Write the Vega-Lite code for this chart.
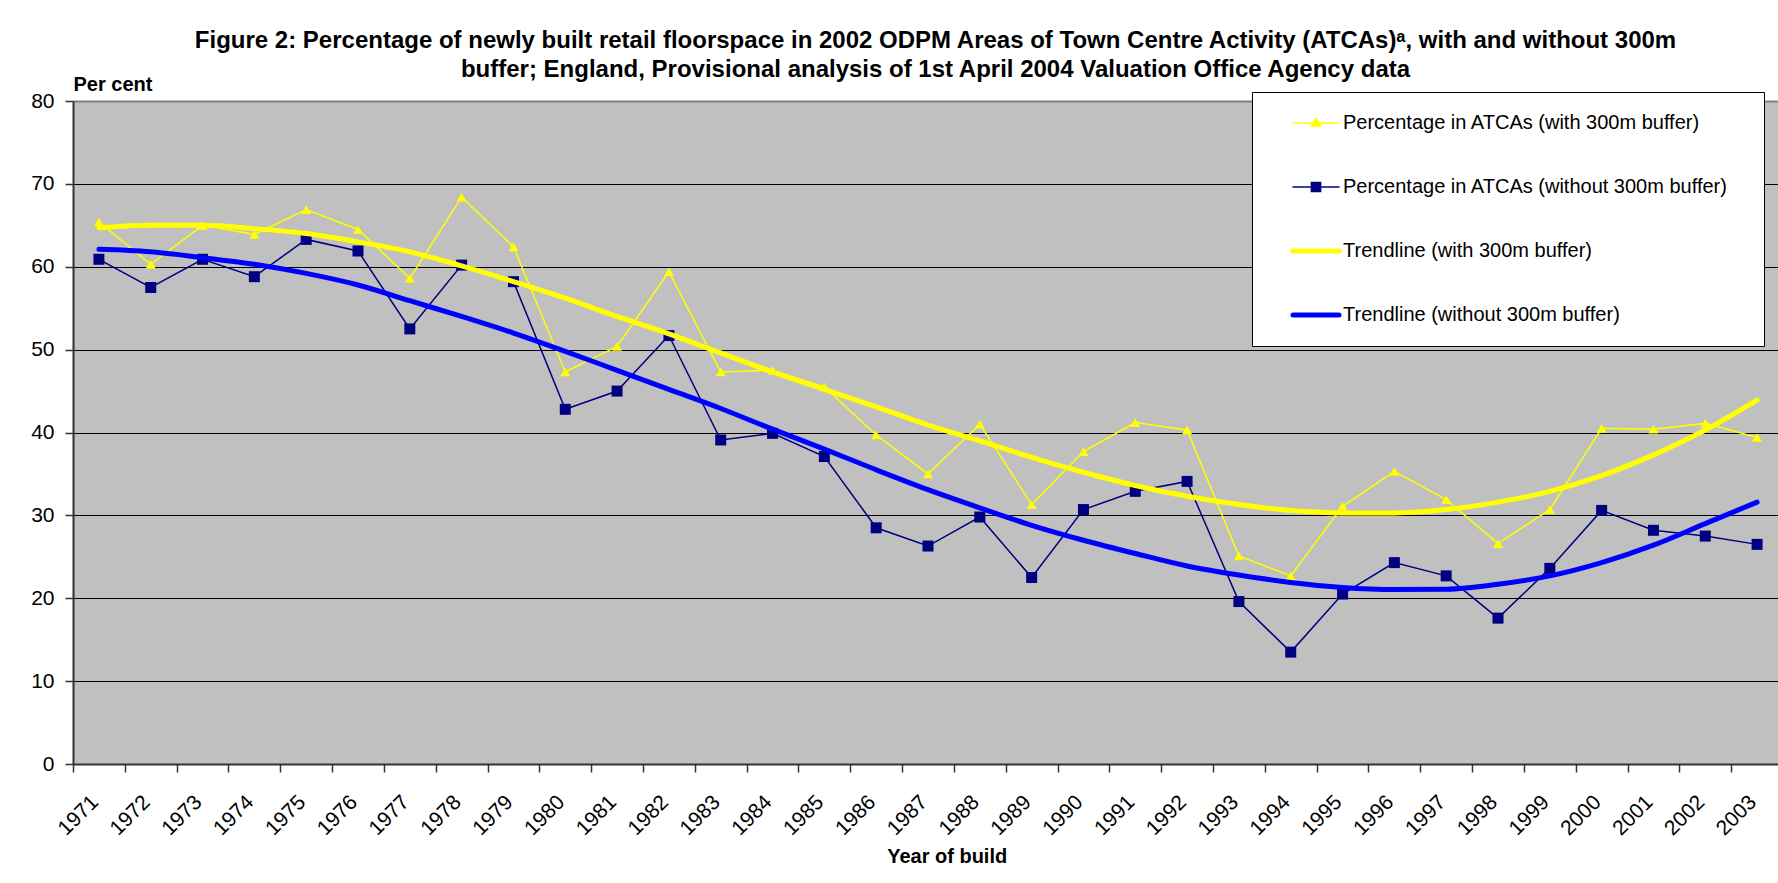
{
  "$schema": "https://vega.github.io/schema/vega-lite/v6.json",
  "autosize": "none",
  "width": 1705,
  "height": 663,
  "padding": {"left": 73, "top": 101, "right": 0, "bottom": 119},
  "background": "white",
  "title": {
    "text": ["Figure 2: Percentage of newly built retail floorspace in 2002 ODPM Areas of Town Centre Activity (ATCAs)\u1d43, with and without 300m", "buffer; England, Provisional analysis of 1st April 2004 Valuation Office Agency data"],
    "anchor": "middle",
    "fontSize": 24,
    "fontWeight": "bold",
    "font": "Liberation Sans",
    "color": "#000000",
    "lineHeight": 29,
    "offset": -8,
    "dx": 10
  },
  "config": {
    "font": "Liberation Sans",
    "view": {"fill": "#C0C0C0", "stroke": null},
    "axis": {
      "labelColor": "#000000",
      "labelFont": "Liberation Sans",
      "titleColor": "#000000",
      "titleFont": "Liberation Sans",
      "domainColor": "#333333",
      "domainWidth": 2,
      "tickColor": "#333333",
      "tickWidth": 1.5,
      "tickSize": 8
    }
  },
  "data": {"values": [
    {"year":"1971","s":"w","v":65.4},{"year":"1972","s":"w","v":60.3},{"year":"1973","s":"w","v":65.0},{"year":"1974","s":"w","v":63.9},{"year":"1975","s":"w","v":66.9},{"year":"1976","s":"w","v":64.5},{"year":"1977","s":"w","v":58.6},{"year":"1978","s":"w","v":68.4},{"year":"1979","s":"w","v":62.4},{"year":"1980","s":"w","v":47.3},{"year":"1981","s":"w","v":50.4},{"year":"1982","s":"w","v":59.4},{"year":"1983","s":"w","v":47.3},{"year":"1984","s":"w","v":47.5},{"year":"1985","s":"w","v":45.5},{"year":"1986","s":"w","v":39.7},{"year":"1987","s":"w","v":35.0},{"year":"1988","s":"w","v":41.0},{"year":"1989","s":"w","v":31.3},{"year":"1990","s":"w","v":37.7},{"year":"1991","s":"w","v":41.2},{"year":"1992","s":"w","v":40.3},{"year":"1993","s":"w","v":25.1},{"year":"1994","s":"w","v":22.7},{"year":"1995","s":"w","v":31.1},{"year":"1996","s":"w","v":35.3},{"year":"1997","s":"w","v":31.9},{"year":"1998","s":"w","v":26.6},{"year":"1999","s":"w","v":30.7},{"year":"2000","s":"w","v":40.5},{"year":"2001","s":"w","v":40.4},{"year":"2002","s":"w","v":41.1},{"year":"2003","s":"w","v":39.4},
    {"year":"1971","s":"wo","v":60.9},{"year":"1972","s":"wo","v":57.5},{"year":"1973","s":"wo","v":60.9},{"year":"1974","s":"wo","v":58.8},{"year":"1975","s":"wo","v":63.3},{"year":"1976","s":"wo","v":61.9},{"year":"1977","s":"wo","v":52.5},{"year":"1978","s":"wo","v":60.2},{"year":"1979","s":"wo","v":58.2},{"year":"1980","s":"wo","v":42.8},{"year":"1981","s":"wo","v":45.0},{"year":"1982","s":"wo","v":51.7},{"year":"1983","s":"wo","v":39.1},{"year":"1984","s":"wo","v":39.9},{"year":"1985","s":"wo","v":37.1},{"year":"1986","s":"wo","v":28.5},{"year":"1987","s":"wo","v":26.3},{"year":"1988","s":"wo","v":29.8},{"year":"1989","s":"wo","v":22.5},{"year":"1990","s":"wo","v":30.7},{"year":"1991","s":"wo","v":32.9},{"year":"1992","s":"wo","v":34.1},{"year":"1993","s":"wo","v":19.6},{"year":"1994","s":"wo","v":13.5},{"year":"1995","s":"wo","v":20.5},{"year":"1996","s":"wo","v":24.3},{"year":"1997","s":"wo","v":22.7},{"year":"1998","s":"wo","v":17.6},{"year":"1999","s":"wo","v":23.6},{"year":"2000","s":"wo","v":30.6},{"year":"2001","s":"wo","v":28.2},{"year":"2002","s":"wo","v":27.5},{"year":"2003","s":"wo","v":26.5},
    {"year":"1971","s":"tw","v":64.7},{"year":"1972","s":"tw","v":65.0},{"year":"1973","s":"tw","v":65.0},{"year":"1974","s":"tw","v":64.6},{"year":"1975","s":"tw","v":64.0},{"year":"1976","s":"tw","v":63.0},{"year":"1977","s":"tw","v":61.8},{"year":"1978","s":"tw","v":60.1},{"year":"1979","s":"tw","v":58.2},{"year":"1980","s":"tw","v":56.2},{"year":"1981","s":"tw","v":54.0},{"year":"1982","s":"tw","v":51.9},{"year":"1983","s":"tw","v":49.6},{"year":"1984","s":"tw","v":47.3},{"year":"1985","s":"tw","v":45.2},{"year":"1986","s":"tw","v":43.1},{"year":"1987","s":"tw","v":40.9},{"year":"1988","s":"tw","v":39.0},{"year":"1989","s":"tw","v":37.0},{"year":"1990","s":"tw","v":35.2},{"year":"1991","s":"tw","v":33.6},{"year":"1992","s":"tw","v":32.3},{"year":"1993","s":"tw","v":31.3},{"year":"1994","s":"tw","v":30.6},{"year":"1995","s":"tw","v":30.3},{"year":"1996","s":"tw","v":30.3},{"year":"1997","s":"tw","v":30.7},{"year":"1998","s":"tw","v":31.6},{"year":"1999","s":"tw","v":32.9},{"year":"2000","s":"tw","v":34.8},{"year":"2001","s":"tw","v":37.3},{"year":"2002","s":"tw","v":40.3},{"year":"2003","s":"tw","v":43.9},
    {"year":"1971","s":"two","v":62.1},{"year":"1972","s":"two","v":61.8},{"year":"1973","s":"two","v":61.1},{"year":"1974","s":"two","v":60.3},{"year":"1975","s":"two","v":59.2},{"year":"1976","s":"two","v":57.8},{"year":"1977","s":"two","v":55.9},{"year":"1978","s":"two","v":54.0},{"year":"1979","s":"two","v":52.0},{"year":"1980","s":"two","v":49.8},{"year":"1981","s":"two","v":47.5},{"year":"1982","s":"two","v":45.2},{"year":"1983","s":"two","v":42.9},{"year":"1984","s":"two","v":40.4},{"year":"1985","s":"two","v":38.0},{"year":"1986","s":"two","v":35.5},{"year":"1987","s":"two","v":33.1},{"year":"1988","s":"two","v":30.9},{"year":"1989","s":"two","v":28.8},{"year":"1990","s":"two","v":27.0},{"year":"1991","s":"two","v":25.4},{"year":"1992","s":"two","v":23.9},{"year":"1993","s":"two","v":22.8},{"year":"1994","s":"two","v":21.9},{"year":"1995","s":"two","v":21.3},{"year":"1996","s":"two","v":21.05},{"year":"1997","s":"two","v":21.1},{"year":"1998","s":"two","v":21.7},{"year":"1999","s":"two","v":22.7},{"year":"2000","s":"two","v":24.3},{"year":"2001","s":"two","v":26.4},{"year":"2002","s":"two","v":29.0},{"year":"2003","s":"two","v":31.6}
  ]},
  "encoding": {
    "x": {
      "field": "year",
      "type": "ordinal",
      "bandPosition": 0.5,
      "scale": {"type": "band", "paddingInner": 0, "paddingOuter": 0, "range": [0, 1710]},
      "axis": {
        "title": "Year of build",
        "titleFontSize": 20,
        "titleFontWeight": "bold",
        "titleX": 873.7,
        "titleY": 98,
        "titleAlign": "center",
        "titleBaseline": "alphabetic",
        "labelAngle": -45,
        "labelAlign": "right",
        "labelBaseline": "alphabetic",
        "labelFontSize": 21,
        "labelPadding": 31,
        "labelOffset": 0,
        "tickBand": "extent",
        "grid": false
      }
    },
    "y": {
      "field": "v",
      "type": "quantitative",
      "scale": {"domain": [0, 80], "nice": false, "zero": true},
      "axis": {
        "values": [0, 10, 20, 30, 40, 50, 60, 70, 80],
        "title": "Per cent",
        "titleAngle": 0,
        "titleAlign": "left",
        "titleBaseline": "alphabetic",
        "titleX": 0,
        "titleY": -11,
        "titleFontSize": 20,
        "titleFontWeight": "bold",
        "labelFontSize": 21,
        "labelPadding": 11,
        "grid": true,
        "gridColor": {"condition": {"test": "datum.value === 80", "value": "#808080"}, "value": "#000000"},
        "gridWidth": {"condition": {"test": "datum.value === 80", "value": 2}, "value": 1}
      }
    },
    "color": {
      "field": "s",
      "type": "nominal",
      "scale": {"domain": ["w", "wo", "tw", "two"], "range": ["#FFFF00", "#000080", "#FFFF00", "#0000FF"]},
      "legend": {
        "title": null,
        "orient": "none",
        "legendX": 1179,
        "legendY": -9,
        "fillColor": "#FFFFFF",
        "strokeColor": "#000000",
        "padding": 21,
        "rowPadding": 44,
        "symbolSize": 2116,
        "symbolOffset": 33,
        "labelOffset": 17,
        "labelFontSize": 20,
        "labelFont": "Liberation Sans",
        "labelColor": "#000000",
        "labelLimit": 700,
        "labelExpr": "datum.value === 'w' ? 'Percentage in ATCAs (with 300m buffer)' : datum.value === 'wo' ? 'Percentage in ATCAs (without 300m buffer)\u2800' : datum.value === 'tw' ? 'Trendline (with 300m buffer)' : 'Trendline (without 300m buffer)'",
        "encode": {
          "symbols": {
            "update": {
              "shape": {"signal": "datum.value === 'w' ? 'M-1,0L1,0M0,-0.2L0.22,0.13L-0.22,0.13Z' : datum.value === 'wo' ? 'M-1,0L1,0M-0.2,-0.2L0.2,-0.2L0.2,0.2L-0.2,0.2Z' : 'M-1,0L1,0'"},
              "strokeWidth": {"signal": "datum.value === 'w' || datum.value === 'wo' ? 1.5 : 5"},
              "strokeCap": {"value": "round"},
              "fill": {"scale": "color", "field": "value"},
              "stroke": {"scale": "color", "field": "value"},
              "opacity": {"value": 1}
            }
          }
        }
      }
    }
  },
  "layer": [
    {
      "transform": [{"filter": {"field": "s", "oneOf": ["w", "wo"]}}],
      "mark": {"type": "line", "strokeWidth": 1.5}
    },
    {
      "transform": [{"filter": {"field": "s", "oneOf": ["w", "wo"]}}],
      "mark": {"type": "point", "filled": true, "opacity": 1},
      "encoding": {
        "shape": {"field": "s", "type": "nominal", "scale": {"domain": ["w", "wo"], "range": ["triangle-up", "square"]}, "legend": null},
        "size": {"field": "s", "type": "nominal", "scale": {"domain": ["w", "wo"], "range": [100, 121]}, "legend": null}
      }
    },
    {
      "transform": [{"filter": {"field": "s", "oneOf": ["tw", "two"]}}],
      "mark": {"type": "line", "strokeWidth": 5, "interpolate": "monotone", "strokeCap": "round"}
    }
  ]
}
